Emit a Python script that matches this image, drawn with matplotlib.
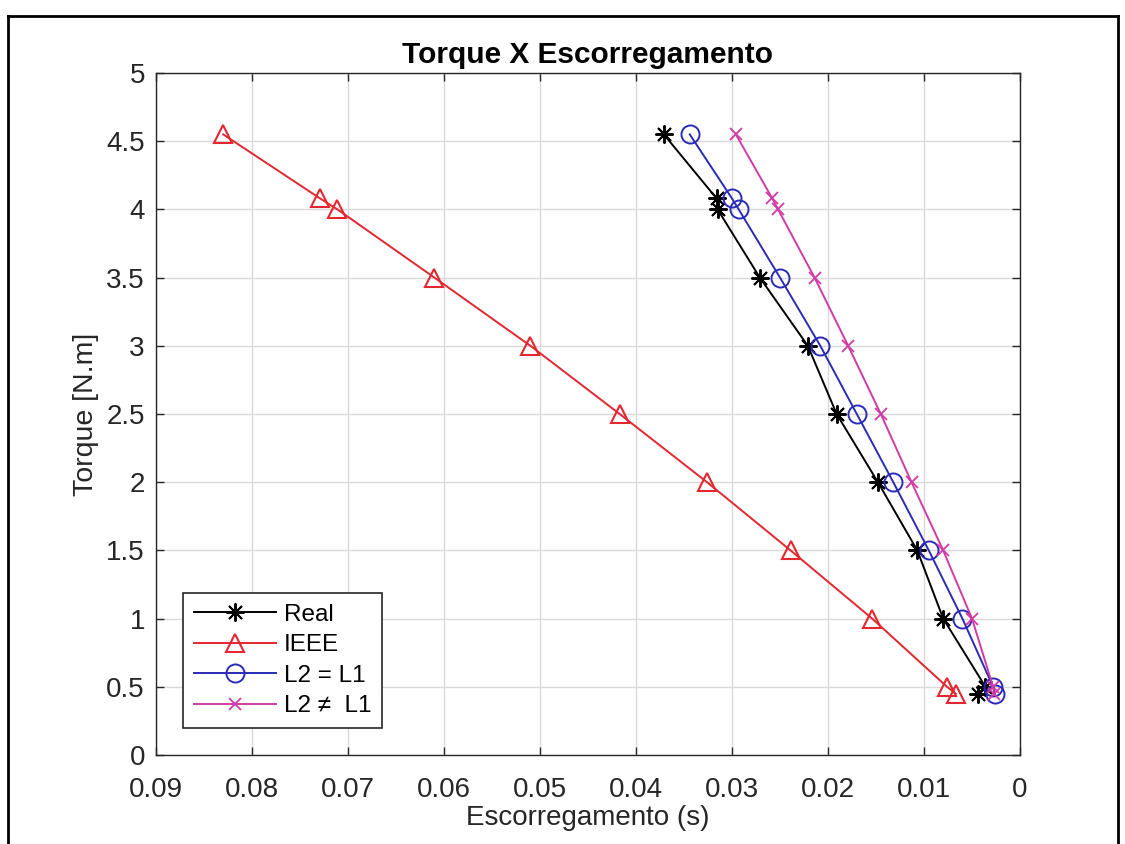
import matplotlib.pyplot as plt
from matplotlib.lines import Line2D

# torque levels (N.m)
torque = [4.55, 4.08, 4.0, 3.5, 3.0, 2.5, 2.0, 1.5, 1.0, 0.5, 0.45]

# slip values per model
slip_real = [0.0371, 0.0316, 0.0315, 0.0271, 0.0221, 0.0191, 0.0148, 0.0107, 0.0080, 0.0036, 0.0044]
slip_ieee = [0.0830, 0.0729, 0.0711, 0.0610, 0.0510, 0.0417, 0.0326, 0.0239, 0.0154, 0.0076, 0.0067]
slip_eq = [0.0344, 0.0300, 0.0293, 0.0250, 0.0208, 0.0170, 0.0132, 0.0095, 0.0060, 0.0028, 0.0026]
slip_neq = [0.0296, 0.0258, 0.0252, 0.0214, 0.0179, 0.0145, 0.0113, 0.0080, 0.0050, 0.0028, 0.0027]

xticks = [0.09, 0.08, 0.07, 0.06, 0.05, 0.04, 0.03, 0.02, 0.01, 0]
yticks = [0, 0.5, 1, 1.5, 2, 2.5, 3, 3.5, 4, 4.5, 5]

plt.rcParams["font.family"] = ["Liberation Sans", "DejaVu Sans"]
fig = plt.figure(figsize=(11.25, 8.44), dpi=100)
ax = fig.add_axes([156 / 1125, 89 / 844, 864 / 1125, 682 / 844])

asterisk = (8, 2, 0)  # MATLAB-style '*'
ax.plot(slip_real, torque, "-", marker=asterisk, color="black", lw=1.4, ms=13, mew=1.4, label="Real")
ax.plot(slip_ieee, torque, "-^", color="#e3262f", lw=1.4, ms=13, mfc="none", mew=1.5, label="IEEE")
ax.plot(slip_eq, torque, "-o", color="#2b2bb5", lw=1.4, ms=13, mfc="none", mew=1.4, label="L2 = L1")
ax.plot(slip_neq, torque, "-x", color="#d23aa5", lw=1.4, ms=8, mew=1.3, label="L2 \u2260  L1")

ax.set_xlim(0.09, 0)
ax.set_ylim(0, 5)
ax.set_xticks(xticks)
ax.set_yticks(yticks)
ax.set_xticklabels([f"{t:g}" for t in xticks])
ax.set_yticklabels([f"{t:g}" for t in yticks])
ax.grid(True, color="#d9d9d9", lw=1.0)
ax.set_axisbelow(True)
ax.tick_params(direction="in", length=6, width=1.0, colors="#262626", labelsize=20,
               top=True, right=True)
ax.tick_params(axis="x", pad=16)
ax.tick_params(axis="y", pad=8)
for s in ax.spines.values():
    s.set_color("#262626")
    s.set_linewidth(1.0)

ax.set_xlabel("Escorregamento (s)", fontsize=20, color="#262626", labelpad=1)
ax.set_ylabel("Torque [N.m]", fontsize=20.5, color="#262626", labelpad=5)
ax.set_title("Torque X Escorregamento", fontsize=21.5, fontweight="bold", pad=7)

leg = ax.legend(loc="lower left", fontsize=17.5, handlelength=3.4, labelspacing=0.35,
                borderaxespad=1.1, handletextpad=0.3, fancybox=False, framealpha=1,
                edgecolor="#262626", borderpad=0.45)
leg.get_frame().set_linewidth(1.2)

# outer frame of the scanned figure
for xs, ys in [([8, 8], [0, 828]), ([8, 1118], [828, 828]), ([1118, 1118], [0, 828])]:
    fig.add_artist(Line2D([x / 1125 for x in xs], [y / 844 for y in ys],
                          transform=fig.transFigure, color="black", lw=2))

fig.savefig("out.png", dpi=100)
